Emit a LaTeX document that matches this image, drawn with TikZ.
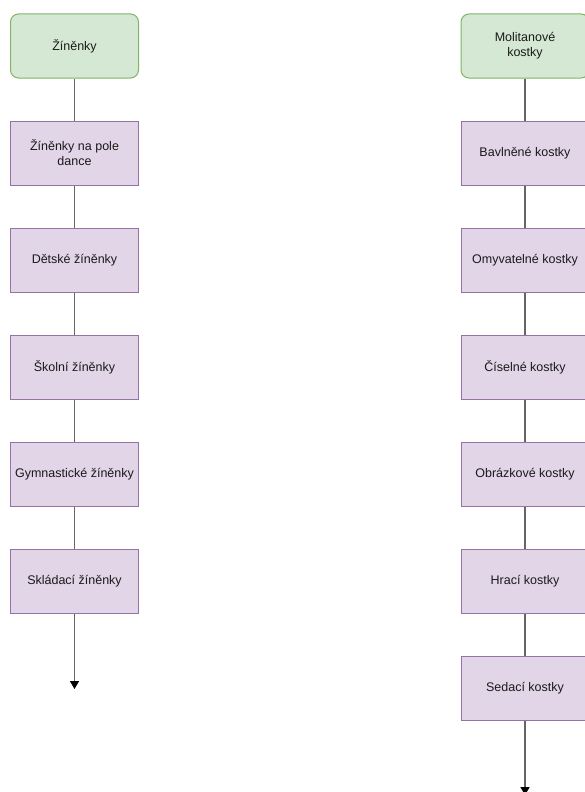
\documentclass[tikz,border=0pt]{standalone}
\usepackage{fontspec}
\setmainfont{Liberation Sans}
\usetikzlibrary{arrows.meta}
\definecolor{gfill}{HTML}{D5E8D4}
\definecolor{gdraw}{HTML}{82B366}
\definecolor{pfill}{HTML}{E1D5E7}
\definecolor{pdraw}{HTML}{9673A6}
\definecolor{edge}{HTML}{666666}
\definecolor{txt}{HTML}{1A1A1A}
\tikzset{
  topbox/.style={draw=gdraw, fill=gfill, rounded corners=8pt, minimum width=128pt, minimum height=64pt, inner sep=0pt, align=center, font=\fontsize{12.5}{15}\selectfont, text=txt, line width=1pt},
  itembox/.style={draw=pdraw, fill=pfill, minimum width=128pt, minimum height=64pt, inner sep=0pt, align=center, font=\fontsize{12.5}{15}\selectfont, text=txt, line width=1pt},
  link/.style={draw=edge, line width=1.6pt},
  arrowlink/.style={link, -{Triangle[length=8pt,width=9pt,color=black,fill=black]}}
}
\begin{document}
\begin{tikzpicture}[x=1pt,y=-1pt]
\clip (0,0) rectangle (585,792);
\fill[white] (0,0) rectangle (585,792);
% left column
\node[topbox] (l0) at (74.5,46) {Žíněnky};
\node[itembox] (l1) at (74.5,153) {Žíněnky na pole\\dance};
\node[itembox] (l2) at (74.5,260) {Dětské žíněnky};
\node[itembox] (l3) at (74.5,367) {Školní žíněnky};
\node[itembox] (l4) at (74.5,474) {Gymnastické žíněnky};
\node[itembox] (l5) at (74.5,581) {Skládací žíněnky};
\coordinate (lend) at (74.5,689);
\draw[link] (l0) -- (l1);
\draw[link] (l1) -- (l2);
\draw[link] (l2) -- (l3);
\draw[link] (l3) -- (l4);
\draw[link] (l4) -- (l5);
\draw[arrowlink] (l5) -- (lend);
% right column
\node[topbox] (r0) at (525,46) {Molitanové\\kostky};
\node[itembox] (r1) at (525,153) {Bavlněné kostky};
\node[itembox] (r2) at (525,260) {Omyvatelné kostky};
\node[itembox] (r3) at (525,367) {Číselné kostky};
\node[itembox] (r4) at (525,474) {Obrázkové kostky};
\node[itembox] (r5) at (525,581) {Hrací kostky};
\node[itembox] (r6) at (525,688.5) {Sedací kostky};
\coordinate (rend) at (525,795);
\draw[link] (r0) -- (r1);
\draw[link] (r1) -- (r2);
\draw[link] (r2) -- (r3);
\draw[link] (r3) -- (r4);
\draw[link] (r4) -- (r5);
\draw[link] (r5) -- (r6);
\draw[arrowlink] (r6) -- (rend);
\end{tikzpicture}
\end{document}
